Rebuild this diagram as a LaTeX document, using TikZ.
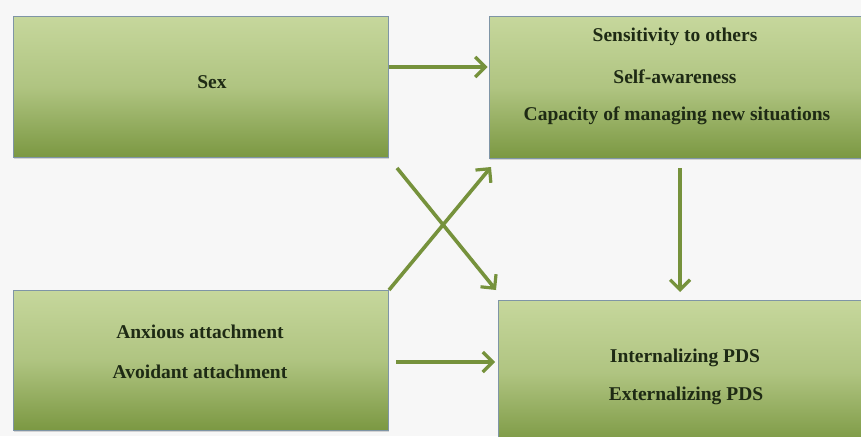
\documentclass[tikz,border=0pt]{standalone}
\usepackage{fontspec}
\setmainfont{Liberation Serif}
\usetikzlibrary{arrows.meta,shadows}
\definecolor{bgc}{HTML}{F7F7F7}
\definecolor{boxtop}{HTML}{C6D79C}
\definecolor{boxbot}{HTML}{7B9842}
\definecolor{boxedge}{HTML}{7F95A6}
\definecolor{arrc}{HTML}{76923C}
\definecolor{txtc}{HTML}{1E2A14}
\begin{document}
\begin{tikzpicture}[x=1pt,y=-1pt,
  gbox/.style={draw=boxedge, line width=1pt, top color=boxtop, bottom color=boxbot,
     middle color=boxtop!70!boxbot, inner sep=0pt, drop shadow={shadow xshift=1pt,shadow yshift=-2pt,opacity=0.3}},
  lbl/.style={font=\bfseries\fontsize{19.5}{22}\selectfont, text=txtc, inner sep=0pt},
  arr/.style={draw=arrc, line width=3.6pt, -{Straight Barb[length=10pt,width=20pt,line width=3.2pt]}}]
\useasboundingbox (0,0) rectangle (861,436);
\fill[bgc] (0,0) rectangle (861,436);
\clip (0,0) rectangle (861,436);
\node[gbox, minimum width=375pt, minimum height=140pt] (sex) at (200.5,87) {};
\node[gbox, minimum width=377pt, minimum height=141pt] (tr) at (677.5,87.5) {};
\node[gbox, minimum width=375pt, minimum height=140pt] (bl) at (200.5,360) {};
\node[gbox, minimum width=368pt, minimum height=145pt] (br) at (682,372.5) {};
\node[lbl] (t1) at (212,82) {Sex};
\node[lbl] (t2) at (675,37) {Sensitivity to others};
\node[lbl] (t3) at (675,77) {Self-awareness};
\node[lbl] (t4) at (677,116) {Capacity of managing new situations};
\node[lbl] (t5) at (200,332) {Anxious attachment};
\node[lbl] (t6) at (200,372) {Avoidant attachment};
\node[lbl] (t7) at (685,358) {Internalizing PDS};
\node[lbl] (t8) at (686,396) {Externalizing PDS};
\coordinate (c1) at (397,168);
\coordinate (c2) at (496,290);
\coordinate (c3) at (389,290);
\coordinate (c4) at (491,167);
\draw[arr] (sex.east |- 0,67) -- ([xshift=-1pt]tr.west |- 0,67);
\draw[arr] (c1) -- (c2);
\draw[arr] (c3) -- (c4);
\draw[arr] (680,168) -- (680,292);
\draw[arr] (396,362) -- (495,362);
\end{tikzpicture}
\end{document}
